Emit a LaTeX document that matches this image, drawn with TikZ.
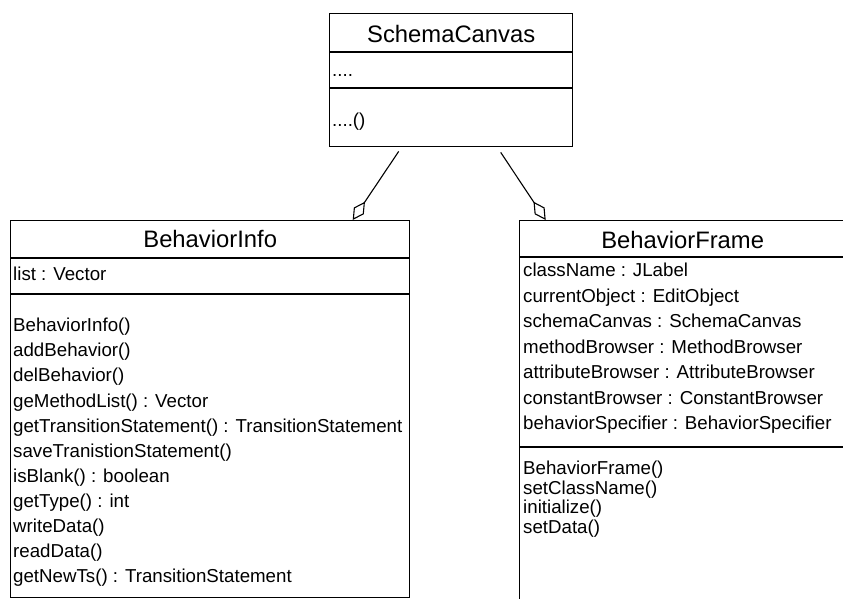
\documentclass[tikz,border=0pt]{standalone}
\usepackage{fontspec}
\setmainfont{Liberation Sans}
\usetikzlibrary{arrows.meta,calc}
\begin{document}
\begin{tikzpicture}[x=1pt,y=-1pt,
  classbox/.style={draw, line width=1.4pt, inner sep=0pt, anchor=north west},
  classname/.style={font=\fontsize{23.8}{28}\selectfont, inner sep=0pt},
  member/.style={font=\fontsize{18.7}{22}\selectfont, inner sep=0pt, anchor=west,
    text height=13.5pt, text depth=4pt},
  divider/.style={line width=1.4pt},
  aggr/.style={line width=1.1pt, -{Diamond[open, length=22pt, width=12pt, line width=1.1pt]}}
]
\useasboundingbox (0,0) rectangle (843,598);
\clip (0,0) rectangle (843,598);

% SchemaCanvas
\node[classbox, minimum width=243pt, minimum height=133pt] (sc) at (329,13) {};
\node[classname] (scname) at ($(sc.north)+(0,21)$) {SchemaCanvas};
\draw[divider] ($(sc.north west)+(0,39)$) -- ($(sc.north east)+(0,39)$);
\node[member] (scattr) at ($(sc.north west)+(3,59)$) {....};
\draw[divider] ($(sc.north west)+(0,75)$) -- ($(sc.north east)+(0,75)$);
\node[member] (scop) at ($(sc.north west)+(3,109)$) {....()};

% BehaviorInfo
\node[classbox, minimum width=399pt, minimum height=377pt] (bi) at (10,220) {};
\node[classname] (biname) at ($(bi.north)+(0,19)$) {BehaviorInfo};
\draw[divider] ($(bi.north west)+(0,38)$) -- ($(bi.north east)+(0,38)$);
\node[member] (bia1) at ($(bi.north west)+(3,56)$) {list : Vector};
\draw[divider] ($(bi.north west)+(0,74)$) -- ($(bi.north east)+(0,74)$);
\node[member] (bim1)  at ($(bi.north west)+(3,107)$) {BehaviorInfo()};
\node[member] (bim2)  at ($(bi.north west)+(3,132.1)$) {addBehavior()};
\node[member] (bim3)  at ($(bi.north west)+(3,157.2)$) {delBehavior()};
\node[member] (bim4)  at ($(bi.north west)+(3,182.3)$) {geMethodList() : Vector};
\node[member] (bim5)  at ($(bi.north west)+(3,207.4)$) {getTransitionStatement() : TransitionStatement};
\node[member] (bim6)  at ($(bi.north west)+(3,232.5)$) {saveTranistionStatement()};
\node[member] (bim7)  at ($(bi.north west)+(3,257.6)$) {isBlank() : boolean};
\node[member] (bim8)  at ($(bi.north west)+(3,282.7)$) {getType() : int};
\node[member] (bim9)  at ($(bi.north west)+(3,307.8)$) {writeData()};
\node[member] (bim10) at ($(bi.north west)+(3,332.9)$) {readData()};
\node[member] (bim11) at ($(bi.north west)+(3,358)$) {getNewTs() : TransitionStatement};

% BehaviorFrame (runs past the right and bottom edges)
\node[classbox, minimum width=326pt, minimum height=400pt] (bf) at (519,220) {};
\node[classname] (bfname) at ($(bf.north)+(0,20)$) {BehaviorFrame};
\draw[divider] ($(bf.north west)+(0,37)$) -- ($(bf.north east)+(0,37)$);
\node[member] (bfa1) at ($(bf.north west)+(4,52)$)    {className : JLabel};
\node[member] (bfa2) at ($(bf.north west)+(4,77.5)$)  {currentObject : EditObject};
\node[member] (bfa3) at ($(bf.north west)+(4,103)$)   {schemaCanvas : SchemaCanvas};
\node[member] (bfa4) at ($(bf.north west)+(4,128.5)$) {methodBrowser : MethodBrowser};
\node[member] (bfa5) at ($(bf.north west)+(4,154)$)   {attributeBrowser : AttributeBrowser};
\node[member] (bfa6) at ($(bf.north west)+(4,179.5)$) {constantBrowser : ConstantBrowser};
\node[member] (bfa7) at ($(bf.north west)+(4,205)$)   {behaviorSpecifier : BehaviorSpecifier};
\draw[divider] ($(bf.north west)+(0,227)$) -- ($(bf.north east)+(0,227)$);
\node[member] (bfm1) at ($(bf.north west)+(4,250)$) {BehaviorFrame()};
\node[member] (bfm2) at ($(bf.north west)+(4,269.5)$) {setClassName()};
\node[member] (bfm3) at ($(bf.north west)+(4,289)$) {initialize()};
\node[member] (bfm4) at ($(bf.north west)+(4,308.5)$) {setData()};

% aggregation connectors
\draw[aggr] ($(sc.south)+(-52.5,4)$) -- ($(bi.north)+(142.5,0)$);
\draw[aggr] ($(sc.south)+(49.5,5)$) -- ($(bf.north)+(-137,0)$);
\end{tikzpicture}
\end{document}
